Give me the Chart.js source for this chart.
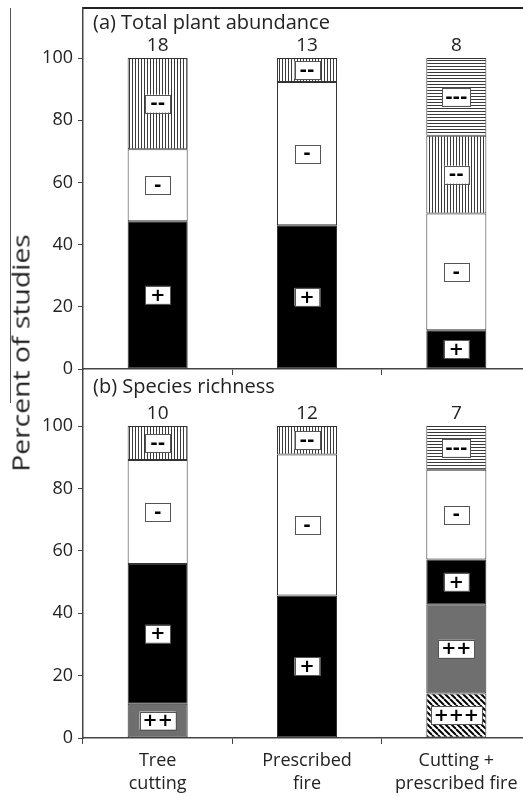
<!DOCTYPE html>
<html>
<head>
<meta charset="utf-8">
<script src="https://cdn.jsdelivr.net/npm/chart.js@4"></script>
<style>
  html, body { margin: 0; padding: 0; background: #fff; overflow: hidden; }
  #page { position: relative; width: 523px; height: 796px; overflow: hidden; }
  canvas { position: absolute; left: 0; }
  #chartA { top: 0; }
  #chartB { top: 369px; }
  #ytitle {
    position: absolute; left: 20px; top: 353px;
    transform: translate(-50%, -50%) rotate(-90deg) scaleX(1.18);
    font: 24px "Open Sans", sans-serif; color: #222; white-space: nowrap;
  }
  #sideLine { position: absolute; left: 10px; top: 8px; width: 1px; height: 395px; background: #555; }
</style>
</head>
<body>
<div id="page">
  <div id="sideLine"></div>
  <canvas id="chartA" width="540" height="380"></canvas>
  <canvas id="chartB" width="540" height="427"></canvas>
  <div id="ytitle">Percent of studies</div>
</div>
<script>
// categories and sample sizes
const categories = [['Tree', 'cutting'], ['Prescribed', 'fire'], ['Cutting +', 'prescribed fire']];
const abundanceN = [18, 13, 8];
const richnessN = [10, 12, 7];
const yTicks = [0, 20, 40, 60, 80, 100];

// (a) Total plant abundance, % of studies per effect class
const abundancePlus = [47.5, 46.2, 12.5];
const abundanceMinus = [23.2, 46.1, 37.5];
const abundanceMinus2 = [29.3, 7.7, 25];
const abundanceMinus3 = [null, null, 25];

// (b) Species richness
const richnessPlus3 = [null, null, 14.3];
const richnessPlus2 = [11, null, 28.6];
const richnessPlus = [44.8, 45.7, 14.3];
const richnessMinus = [33.3, 45.2, 28.8];
const richnessMinus2 = [10.9, 9.1, null];
const richnessMinus3 = [null, null, 14];

// fill patterns
function makePattern(draw, size) {
    const c = document.createElement('canvas');
    c.width = size; c.height = size;
    const g = c.getContext('2d');
    g.fillStyle = '#fff';
    g.fillRect(0, 0, size, size);
    draw(g, size);
    return g.createPattern(c, 'repeat');
}
const vertLines = makePattern((g) => { g.fillStyle = '#3a3a3a'; g.fillRect(0, 0, 1, 3); }, 3);
const horizLines = makePattern((g) => { g.fillStyle = '#3a3a3a'; g.fillRect(0, 0, 3, 1); }, 3);
const diagLines = makePattern((g, s) => {
    g.strokeStyle = '#000';
    g.lineWidth = 2;
    for (const o of [-s, 0, s]) {
        g.beginPath();
        g.moveTo(o, 0);
        g.lineTo(o + s, s);
        g.stroke();
    }
}, 6);

const styles = {
    '+++': diagLines,
    '++': '#6f6f6f',
    '+': '#000',
    '-': '#fff',
    '--': vertLines,
    '---': horizLines
};

function ds(label, data) {
    return {
        label, data,
        backgroundColor: styles[label],
        borderColor: '#333',
        borderWidth: 1,
        borderSkipped: false,
        categoryPercentage: 1.0,
        barPercentage: 0.402
    };
}

// boxed effect-class labels, panel title and n above bars
const annotate = {
    id: 'annotate',
    afterDatasetsDraw(chart, args, opts) {
        const { ctx, chartArea } = chart;
        ctx.save();
        chart.data.datasets.forEach((d, di) => {
            const meta = chart.getDatasetMeta(di);
            meta.data.forEach((bar, i) => {
                if (d.data[i] == null) return;
                const cy = (bar.y + bar.base) / 2;
                ctx.font = 'bold 18px "DejaVu Sans"';
                const w = Math.max(25, ctx.measureText(d.label).width + 6);
                const h = 18;
                ctx.fillStyle = '#fff';
                ctx.fillRect(bar.x - w / 2, cy - h / 2, w, h);
                ctx.strokeStyle = '#555';
                ctx.lineWidth = 1;
                ctx.strokeRect(Math.round(bar.x - w / 2) + 0.5, Math.round(cy - h / 2) + 0.5, Math.round(w), h);
                ctx.fillStyle = '#000';
                ctx.textAlign = 'center';
                ctx.textBaseline = 'middle';
                ctx.fillText(d.label, bar.x, cy + 1);
            });
        });

        ctx.fillStyle = '#222';
        ctx.textAlign = 'center';
        ctx.textBaseline = 'middle';
        ctx.font = '19px "Open Sans"';
        const top = chart.scales.y.getPixelForValue(100);
        const meta0 = chart.getDatasetMeta(0);
        opts.counts.forEach((n, i) => {
            ctx.fillText(String(n), meta0.data[i].x, top - 12);
        });

        ctx.font = '20px "Open Sans"';
        ctx.textAlign = 'left';
        ctx.fillText(opts.title, chartArea.left + 10, chartArea.top + opts.titleOffset);

        if (opts.frame) {
            ctx.strokeStyle = '#222';
            ctx.lineWidth = 2;
            ctx.beginPath();
            ctx.moveTo(chartArea.left, chartArea.top);
            ctx.lineTo(chartArea.right, chartArea.top);
            ctx.stroke();
        }
        ctx.restore();
    }
};

function makePanel(id, datasets, counts, title, yMax, xHeight, showLabels, frame, padTop, titleOffset) {
    return new Chart(document.getElementById(id), {
        type: 'bar',
        data: { labels: categories, datasets },
        plugins: [annotate],
        options: {
            responsive: false,
            animation: false,
            layout: { padding: { top: padTop, right: 9, left: 0, bottom: 0 } },
            plugins: {
                legend: { display: false },
                tooltip: { enabled: false },
                annotate: { counts, title, frame, titleOffset }
            },
            scales: {
                x: {
                    stacked: true,
                    afterFit: (s) => {
                        s.height = xHeight;
                        s.paddingLeft = 0; s.paddingRight = 0;
                    },
                    border: { display: true, color: '#444', width: 1.5 },
                    grid: { offset: true, drawOnChartArea: false, drawTicks: true, tickLength: 6, color: '#444' },
                    ticks: {
                        display: showLabels,
                        color: '#222',
                        padding: 5,
                        font: { family: 'Open Sans', size: 18, lineHeight: 1.28 }
                    }
                },
                y: {
                    stacked: true,
                    min: 0,
                    max: yMax,
                    afterFit: (s) => {
                        s.width = 83;
                        s.paddingTop = 0; s.paddingBottom = 0;
                    },
                    afterBuildTicks: (s) => { s.ticks = yTicks.map(v => ({ value: v })); },
                    border: { display: true, color: '#444', width: 1.5 },
                    grid: { drawOnChartArea: false, drawTicks: true, tickLength: 5, color: '#444' },
                    ticks: {
                        color: '#222',
                        padding: 5,
                        font: { family: 'Open Sans', size: 18 }
                    }
                }
            }
        }
    });
}

makePanel('chartA', [
    ds('+', abundancePlus),
    ds('-', abundanceMinus),
    ds('--', abundanceMinus2),
    ds('---', abundanceMinus3)
], abundanceN, '(a) Total plant abundance', 116.1, 11, false, true, 8, 15);

makePanel('chartB', [
    ds('+++', richnessPlus3),
    ds('++', richnessPlus2),
    ds('+', richnessPlus),
    ds('-', richnessMinus),
    ds('--', richnessMinus2),
    ds('---', richnessMinus3)
], richnessN, '(b) Species richness', 118.3, 58, true, false, 0, 18);
</script>
</body>
</html>
